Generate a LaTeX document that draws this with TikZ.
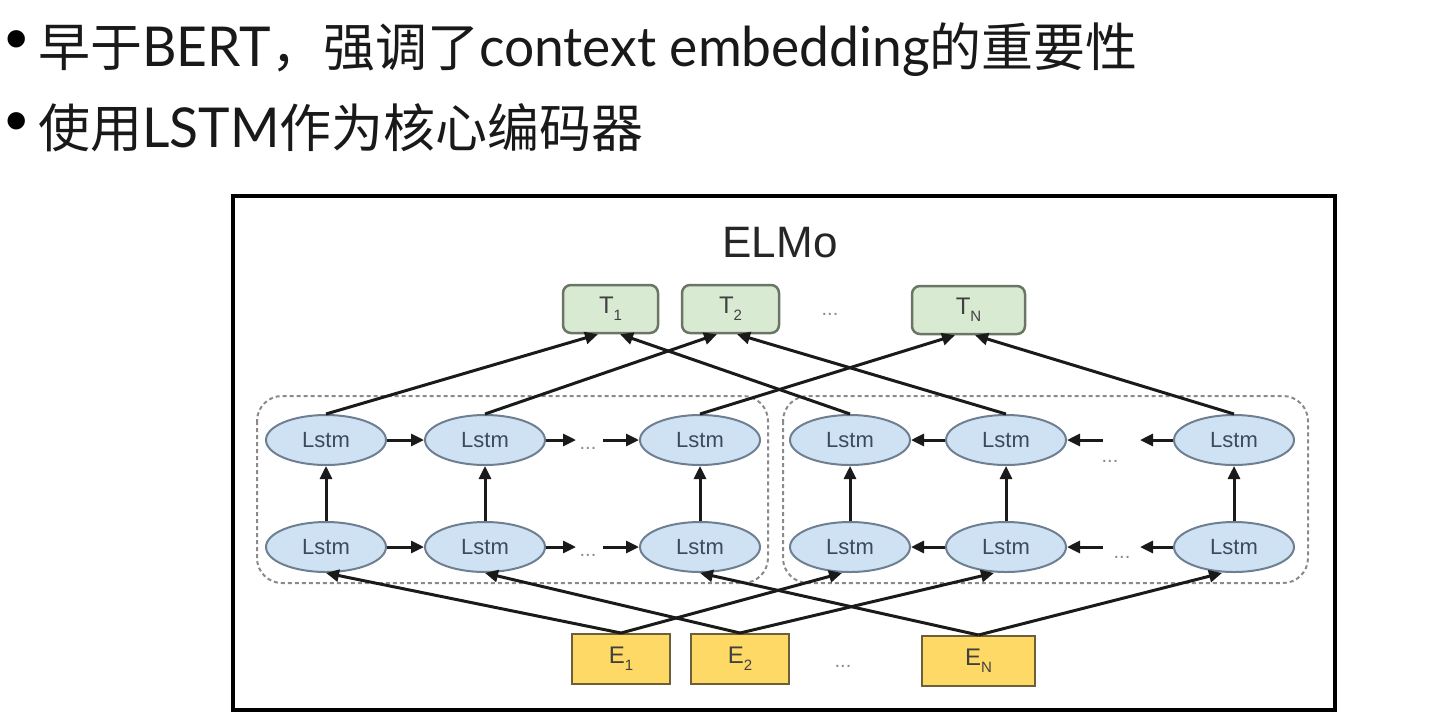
\documentclass[tikz,border=0pt]{standalone}
\usepackage{fontspec}
\setmainfont{Liberation Sans}
\newfontfamily\cjk[Scale=0.945]{Noto Sans CJK SC}
\newfontfamily\nlat[FakeStretch=0.97]{Lato}
\usetikzlibrary{arrows.meta,shapes.geometric}
\definecolor{lstmfill}{HTML}{CFE2F3}
\definecolor{lstmdraw}{HTML}{6E7F91}
\definecolor{lstmtext}{HTML}{3B4A60}
\definecolor{tfill}{HTML}{D9EAD3}
\definecolor{tdraw}{HTML}{6B7565}
\definecolor{efill}{HTML}{FFD966}
\definecolor{edraw}{HTML}{6D5F3A}
\definecolor{dotgrey}{HTML}{8A8A8A}
\definecolor{arr}{HTML}{1A1A1A}
\newcommand{\tok}[2]{{\fontsize{24}{24}\selectfont #1\raisebox{-7pt}{\fontsize{15}{15}\selectfont #2}}}
\begin{document}
\begin{tikzpicture}[x=1pt,y=-1pt,
  lstm/.style={ellipse,draw=lstmdraw,fill=lstmfill,line width=2pt,minimum width=120pt,minimum height=50pt,inner sep=0pt,text=lstmtext,font=\fontsize{22}{22}\selectfont},
  tbox/.style={rectangle,rounded corners=8pt,draw=tdraw,fill=tfill,line width=2.5pt,minimum height=48pt,inner sep=0pt,text=black!75},
  ebox/.style={rectangle,draw=edraw,fill=efill,line width=2pt,minimum height=50pt,inner sep=0pt,text=black!75},
  grp/.style={draw=dotgrey,dash pattern=on 4pt off 3pt,line width=2pt,rounded corners=25pt},
  dotsty/.style={text=dotgrey,font=\fontsize{20}{20}\selectfont,inner sep=0pt},
  con/.style={draw=arr,line width=3pt,-{Triangle[length=13pt,width=12pt]}},
  bul/.style={anchor=base west,inner sep=0pt,font=\fontsize{55}{55}\selectfont,text=black!90}
]
\useasboundingbox (0,0) rectangle (1443,721);
% bullet text
\node[inner sep=0pt,font=\fontsize{64}{64}\selectfont] (b1) at (17,46) {\textbullet};
\node[bul] (l1) at (38,66) {\cjk 早于\nlat BERT\cjk ，强调了\nlat context embedding\cjk 的重要性};
\node[inner sep=0pt,font=\fontsize{64}{64}\selectfont] (b2) at (17,128) {\textbullet};
\node[bul] (l2) at (38,147) {\cjk 使用\nlat LSTM\cjk 作为核心编码器};
% outer frame
\draw[line width=4pt,black] (233,196) rectangle (1335,710);
\node[font=\fontsize{44}{44}\selectfont,text=black!85,inner sep=0pt] (title) at (780,243) {ELMo};
% groups
\draw[grp] (257,396) rectangle (768,583);
\draw[grp] (783,396) rectangle (1308,583);
% T boxes
\node[tbox,minimum width=95pt] (T1) at (610.5,309) {\tok{T}{1}};
\node[tbox,minimum width=97pt] (T2) at (730.5,309) {\tok{T}{2}};
\node[dotsty] (tdots) at (830,314) {...};
\node[tbox,minimum width=113pt] (TN) at (968.5,310) {\tok{T}{N}};
% E boxes
\node[ebox,minimum width=98pt] (E1) at (621,659) {\tok{E}{1}};
\node[ebox,minimum width=98pt] (E2) at (740,659) {\tok{E}{2}};
\node[dotsty] (edots) at (843,666) {...};
\node[ebox,minimum width=113pt] (EN) at (978.5,661) {\tok{E}{N}};
% lstm nodes
\foreach \n/\x in {1/326,2/485,3/700,4/850,5/1006,6/1234}{
  \node[lstm] (U\n) at (\x,440) {Lstm};
  \node[lstm] (D\n) at (\x,547) {Lstm};
}
% dots and free ends
\node[dotsty] (ud1) at (588,448) {...};
\node[dotsty] (dd1) at (588,555) {...};
\node[dotsty] (ud2) at (1110,461) {...};
\node[dotsty] (dd2) at (1122,557) {...};
\coordinate (ua) at (576,440); \coordinate (ub) at (603,440);
\coordinate (da) at (576,547); \coordinate (db) at (603,547);
\coordinate (uc) at (1103,440); \coordinate (ud) at (1140,440);
\coordinate (dc) at (1103,547); \coordinate (dd) at (1140,547);
% horizontal arrows
\draw[con] (U1.east) -- (U2.west);
\draw[con] (U2.east) -- (ua);
\draw[con] (ub) -- (U3.west);
\draw[con] (D1.east) -- (D2.west);
\draw[con] (D2.east) -- (da);
\draw[con] (db) -- (D3.west);
\draw[con] (U5.west) -- (U4.east);
\draw[con] (uc) -- (U5.east);
\draw[con] (U6.west) -- (ud);
\draw[con] (D5.west) -- (D4.east);
\draw[con] (dc) -- (D5.east);
\draw[con] (D6.west) -- (dd);
% vertical arrows
\foreach \n in {1,...,6}{ \draw[con] (D\n.north) -- (U\n.south); }
% to T
\draw[con] (U1.north) -- ([xshift=-12.5pt]T1.south);
\draw[con] (U4.north) -- ([xshift=9.5pt]T1.south);
\draw[con] (U2.north) -- ([xshift=-13.5pt]T2.south);
\draw[con] (U5.north) -- ([xshift=6.5pt]T2.south);
\draw[con] (U3.north) -- ([xshift=-13.5pt]TN.south);
\draw[con] (U6.north) -- ([xshift=6.5pt]TN.south);
% from E
\draw[con] (E1.north) -- (D1.south);
\draw[con] (E1.north) -- ([xshift=-8pt]D4.south);
\draw[con] (E2.north) -- (D2.south);
\draw[con] (E2.north) -- ([xshift=-12pt]D5.south);
\draw[con] (EN.north) -- (D3.south);
\draw[con] (EN.north) -- ([xshift=-12pt]D6.south);
\end{tikzpicture}
\end{document}
